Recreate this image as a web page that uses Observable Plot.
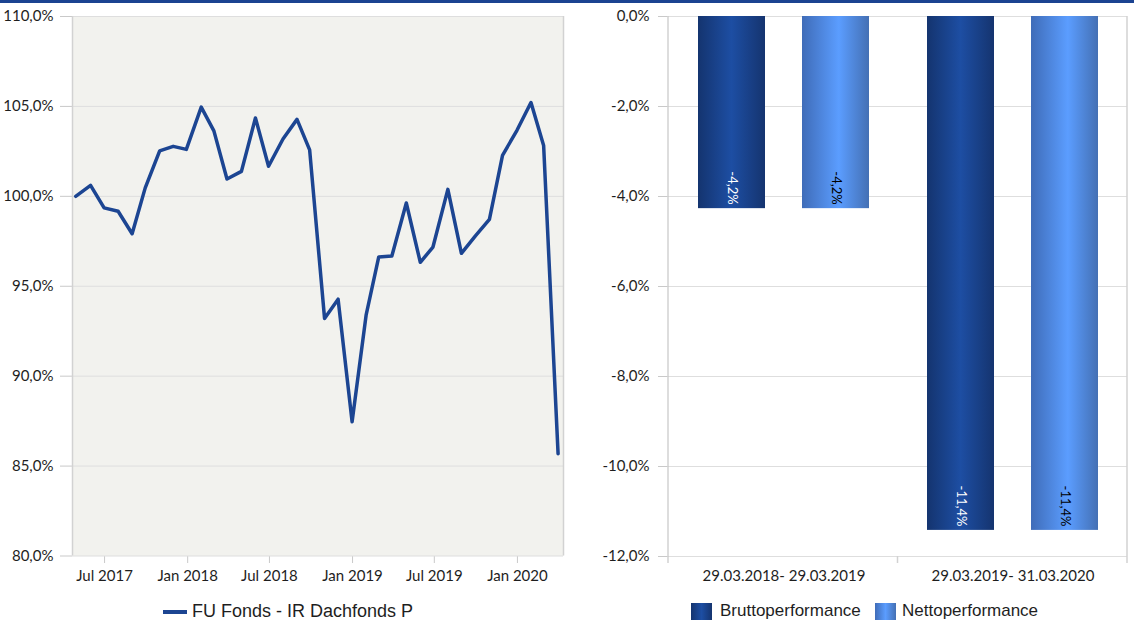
<!DOCTYPE html>
<html><head><meta charset="utf-8">
<script src="https://cdn.jsdelivr.net/npm/d3@7"></script>
<script src="https://cdn.jsdelivr.net/npm/@observablehq/plot@0.6"></script>
<style>
html,body{margin:0;padding:0;background:#fff;}
#wrap{position:relative;width:1134px;height:621px;overflow:hidden;font-family:Lato,sans-serif;}
#topbar{position:absolute;left:0;top:0;width:1134px;height:3px;background:#1b4391;z-index:5;}
#left{position:absolute;left:0;top:0;}
#right{position:absolute;left:580px;top:0;}
.chart [aria-label*="axis"] text{fill:#1e1e1e;font-size:15px;font-family:Lato,sans-serif;}
.chart [aria-label*="axis"] line,.chart [aria-label*="axis"] path{stroke:#c9c9c9;}
.leg{position:absolute;font-family:"Liberation Sans",Arial,sans-serif;font-size:17px;color:#1e1e1e;white-space:nowrap;line-height:20px;}
.sw{position:absolute;}
</style></head>
<body>
<div id="wrap">
  <div id="topbar"></div>
  <div id="left" class="chart"></div>
  <div id="right" class="chart"></div>
  <div class="sw" style="left:163px;top:610px;width:24px;height:4px;background:#1c4592;"></div>
  <div class="leg" style="left:192px;top:601px;font-size:18px;">FU Fonds - IR Dachfonds P</div>
  <div class="sw" style="left:691px;top:603px;width:21px;height:17px;background:linear-gradient(90deg,#14346f,#1d4ea3 50%,#15346f);"></div>
  <div class="leg" style="left:720px;top:601px;">Bruttoperformance</div>
  <div class="sw" style="left:875px;top:603px;width:21px;height:17px;background:linear-gradient(90deg,#3f6cb8,#5b9dff 50%,#4470b4);"></div>
  <div class="leg" style="left:902px;top:601px;">Nettoperformance</div>
</div>
<script>
// ---- Left chart data ----
const dates = ["2017-04-28","2017-05-31","2017-06-30","2017-07-31","2017-08-31","2017-09-29","2017-10-31","2017-11-30","2017-12-29",
  "2018-01-31","2018-02-28","2018-03-29","2018-04-30","2018-05-31","2018-06-29","2018-07-31","2018-08-31","2018-09-28","2018-10-31","2018-11-30","2018-12-31",
  "2019-01-31","2019-02-28","2019-03-29","2019-04-30","2019-05-31","2019-06-28","2019-07-31","2019-08-30","2019-09-30","2019-10-31","2019-11-29","2019-12-31",
  "2020-01-31","2020-02-28","2020-03-31"];
const values = [100.0,100.61,99.36,99.17,97.92,100.47,102.53,102.78,102.61,
  104.96,103.64,100.96,101.39,104.36,101.67,103.19,104.28,102.58,93.21,94.28,87.46,
  93.39,96.63,96.68,99.63,96.33,97.18,100.39,96.83,97.8,98.72,102.28,103.67,
  105.22,102.83,85.69];
const lineSeries = "FU Fonds - IR Dachfonds P";
const yTicks = [80,85,90,95,100,105,110];
const xTickDates = ["2017-07-01","2018-01-01","2018-07-01","2019-01-01","2019-07-01","2020-01-01"];
const xDomainDates = ["2017-04-21","2020-04-12"];

// ---- Right chart data ----
const periods = ["29.03.2018- 29.03.2019","29.03.2019- 31.03.2020"];
const seriesNames = ["Bruttoperformance","Nettoperformance"];
const brutto = [-4.27,-11.42];
const netto = [-4.27,-11.42];
const bruttoLabels = ["-4,2%","-11,4%"];
const nettoLabels = ["-4,2%","-11,4%"];
const barTicks = [-12,-10,-8,-6,-4,-2,0];

const pct = d => d.toFixed(1).replace(".", ",") + "%";

const lineData = dates.map((d,i) => ({date: new Date(d), value: values[i], series: lineSeries}));
const xDomain = xDomainDates.map(d => new Date(d));

const left = Plot.plot({
  width: 580, height: 600,
  marginLeft: 72, marginRight: 17, marginTop: 16, marginBottom: 44.5,
  style: {background: "transparent", color: "#c9c9c9", fontFamily: "Lato", fontSize: "15px", overflow: "visible"},
  x: {type: "utc", domain: xDomain, ticks: xTickDates.map(d => new Date(d)), tickFormat: d3.utcFormat("%b %Y"), tickSize: 7.5, tickPadding: 7, label: null},
  y: {domain: [80,110], ticks: yTicks, tickFormat: pct, tickSize: 12, tickPadding: 7, label: null},
  marks: [
    Plot.frame({fill: "#f2f2ee", stroke: "none"}),
    Plot.ruleY(yTicks, {stroke: "#dedede", strokeWidth: 1}),
    Plot.ruleX(xDomain, {stroke: "#d2d2d2", strokeWidth: 1.5}),
    Plot.line(lineData, {x: "date", y: "value", stroke: "#1c4592", strokeWidth: 3.5, strokeLinejoin: "round", strokeLinecap: "round"})
  ]
});
document.getElementById("left").appendChild(left);

const barData = [];
periods.forEach((p,i) => {
  barData.push({period: p, series: seriesNames[0], value: brutto[i], label: bruttoLabels[i]});
  barData.push({period: p, series: seriesNames[1], value: netto[i], label: nettoLabels[i]});
});

const RW = 554, RML = 88, RMR = 7, RMT = 16, RMB = 44, RH = 600;
const right = Plot.plot({
  width: RW, height: RH,
  marginLeft: RML, marginRight: RMR, marginTop: RMT, marginBottom: RMB,
  style: {background: "transparent", color: "#c9c9c9", fontFamily: "Lato", fontSize: "15px", overflow: "visible"},
  facet: {data: barData, x: "period"},
  fx: {domain: periods, padding: 0, axis: "bottom", tickSize: 0, tickPadding: 14, label: null},
  x: {domain: seriesNames, paddingInner: 0.358, paddingOuter: 0.27, axis: null},
  y: {domain: [-12,0], ticks: barTicks, tickFormat: pct, tickSize: 11, tickPadding: 9, label: null},
  color: {domain: seriesNames, range: ["url(#gBrutto)","url(#gNetto)"]},
  marks: [
    Plot.ruleY(barTicks, {stroke: "#dedede", strokeWidth: 1}),
    Plot.barY(barData, {x: "series", y: "value", fill: "series"}),
    Plot.text(barData, {filter: d => d.series === seriesNames[0], x: "series", y: "value", text: "label", rotate: 90, textAnchor: "end", dy: -4, fill: "white", fontSize: 13, fontFamily: "Lato"}),
    Plot.text(barData, {filter: d => d.series === seriesNames[1], x: "series", y: "value", text: "label", rotate: 90, textAnchor: "end", dy: -4, fill: "black", fontSize: 13, fontFamily: "Lato"})
  ]
});
document.getElementById("right").appendChild(right);

// gradients for bars
const rs = d3.select(right);
const defs = rs.insert("defs", ":first-child");
function grad(id, stops) {
  const g = defs.append("linearGradient").attr("id", id).attr("x1", "0").attr("x2", "1").attr("y1", "0").attr("y2", "0");
  stops.forEach(([o, c]) => g.append("stop").attr("offset", o).attr("stop-color", c));
}
grad("gBrutto", [[0,"#14346f"],[0.5,"#1d4ea3"],[1,"#15346f"]]);
grad("gNetto", [[0,"#3f6cb8"],[0.55,"#5b9dff"],[1,"#4470b4"]]);

// plot-area borders and category separator tick (decoration)
const x0 = RML, x1 = RW - RMR, yb = RH - RMB;
const deco = rs.append("g").attr("stroke", "#d2d2d2").attr("stroke-width", 1.5);
deco.append("line").attr("x1", x0).attr("x2", x0).attr("y1", RMT).attr("y2", yb + 7);
deco.append("line").attr("x1", x1).attr("x2", x1).attr("y1", RMT).attr("y2", yb + 7);
deco.append("line").attr("x1", (x0 + x1) / 2).attr("x2", (x0 + x1) / 2).attr("y1", yb).attr("y2", yb + 7);
</script>
</body></html>
